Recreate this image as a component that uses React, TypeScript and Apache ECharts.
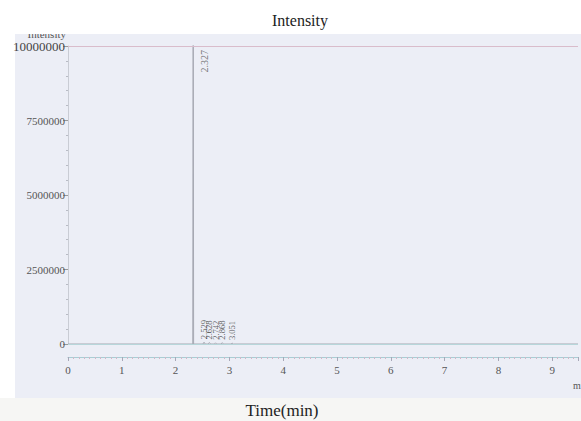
import React, { useEffect, useRef } from "react";
import * as echarts from "echarts";

const yTicks = [0, 2500000, 5000000, 7500000, 10000000];
const xTicks = [0, 1, 2, 3, 4, 5, 6, 7, 8, 9];
const peakTimes = [2.327, 2.529, 2.628, 2.742, 2.868, 3.051];
const peakHeights = [14000000, 60000, 50000, 40000, 45000, 30000];
const peakLabels = ["2.327", "2.529", "2.628", "2.742", "2.868", "3.051"];
const titleText = "Intensity";
const xAxisTitle = "Time(min)";
const yAxisName = "Intensity";
const xUnit = "min";

const Y_MAX = yTicks[yTicks.length - 1];
const X_MAX = 9.48;

export default function App() {
  const ref = useRef<HTMLDivElement>(null);
  useEffect(() => {
    if (!ref.current) return;
    const chart = echarts.init(ref.current, undefined, { renderer: "svg" });
    const trace: number[][] = [[0, 0]];
    peakTimes.forEach((t, i) => {
      const w = i === 0 ? 0.008 : 0.02;
      trace.push([t - w, 0], [t, peakHeights[i]], [t + w, 0]);
    });
    trace.push([X_MAX, 0]);
    const serif = "'Liberation Serif', 'Times New Roman', serif";

    chart.setOption({
      animation: false,
      backgroundColor: "#ffffff",
      grid: { left: 68, right: 0, top: 46, bottom: 77, containLabel: false },
      xAxis: {
        type: "value",
        min: 0,
        max: X_MAX,
        interval: 1,
        offset: 13,
        axisLine: { show: true, onZero: false, lineStyle: { color: "#a9cdd4", width: 1.2 } },
        axisTick: { show: true, length: 4, inside: false, lineStyle: { color: "#a8a8b8" } },
        minorTick: { show: true, splitNumber: 10, length: 2, lineStyle: { color: "#d0b8c8" } },
        splitLine: { show: false },
        axisLabel: {
          margin: 7,
          fontFamily: serif,
          fontSize: 11,
          color: "#555",
          formatter: (v: number) => (xTicks.includes(v) ? String(v) : ""),
        },
      },
      yAxis: {
        type: "value",
        min: 0,
        max: Y_MAX,
        interval: 2500000,
        name: yAxisName,
        nameLocation: "end",
        nameGap: 7,
        nameTextStyle: { fontFamily: serif, fontSize: 11, color: "#555", align: "right", padding: [0, 2, 0, 0] },
        axisLine: { show: true, lineStyle: { color: "#c9ccd4", width: 1 } },
        axisTick: { show: true, length: 5, lineStyle: { color: "#999" } },
        minorTick: { show: true, splitNumber: 5, length: 2, lineStyle: { color: "#b8bbc4" } },
        splitLine: { show: false },
        axisLabel: {
          margin: 3,
          fontFamily: serif,
          fontSize: 11,
          color: "#555",
          formatter: (v: number) => (v === Y_MAX ? "{big|" + v + "}" : String(v)),
          rich: { big: { fontFamily: serif, fontSize: 13, color: "#444" } },
        },
      },
      series: [
        {
          type: "line",
          data: trace,
          symbol: "none",
          clip: true,
          lineStyle: { color: "#a6a8b2", width: 1 },
          markLine: {
            silent: true,
            symbol: "none",
            label: { show: false },
            data: [
              { yAxis: Y_MAX, lineStyle: { color: "#d9bccb", width: 1.2, type: "solid" } },
              { yAxis: 0, lineStyle: { color: "#b7d6da", width: 1, type: "solid" } },
            ],
          },
        },
        {
          type: "scatter",
          symbolSize: 0,
          data: peakTimes.map((t, i) => ({
            value: [t, Math.min(peakHeights[i], Y_MAX)],
            label:
              i === 0
                ? {
                    show: true,
                    formatter: peakLabels[i],
                    position: "insideTop",
                    distance: 4,
                    rotate: 90,
                    align: "right",
                    verticalAlign: "middle",
                    offset: [0, 11],
                    fontSize: 10,
                    fontFamily: serif,
                    color: "#555",
                  }
                : {
                    show: true,
                    formatter: peakLabels[i],
                    position: "top",
                    distance: 3,
                    rotate: 90,
                    align: "left",
                    verticalAlign: "middle",
                    offset: [0, 0],
                    fontSize: 8.5,
                    fontFamily: serif,
                    color: "#3a3a3a",
                  },
          })),
        },
      ],
      graphic: [
        { type: "rect", z: -1, shape: { x: 15, y: 34, width: 566, height: 364 }, style: { fill: "#eceef6" } },
        { type: "rect", z: -1, shape: { x: 0, y: 398, width: 581, height: 23 }, style: { fill: "#f6f6f4" } },
        { type: "rect", z: 100, shape: { x: 0, y: 0, width: 581, height: 34 }, style: { fill: "#ffffff" } },
        {
          type: "text",
          z: 101,
          x: 300,
          y: 20,
          style: { text: titleText, font: "16px " + serif, fill: "#222", align: "center", verticalAlign: "middle" },
        },
        {
          type: "text",
          z: 101,
          x: 282,
          y: 410,
          style: { text: xAxisTitle, font: "17px " + serif, fill: "#222", align: "center", verticalAlign: "middle" },
        },
        {
          type: "text",
          z: 101,
          x: 573,
          y: 385,
          style: { text: xUnit, font: "10px " + serif, fill: "#555", align: "left", verticalAlign: "middle" },
        },
      ],
    });
    return () => chart.dispose();
  }, []);
  return (
    <div
      ref={ref}
      style={{ position: "absolute", left: 0, top: 0, width: 581, height: 421 }}
    />
  );
}
